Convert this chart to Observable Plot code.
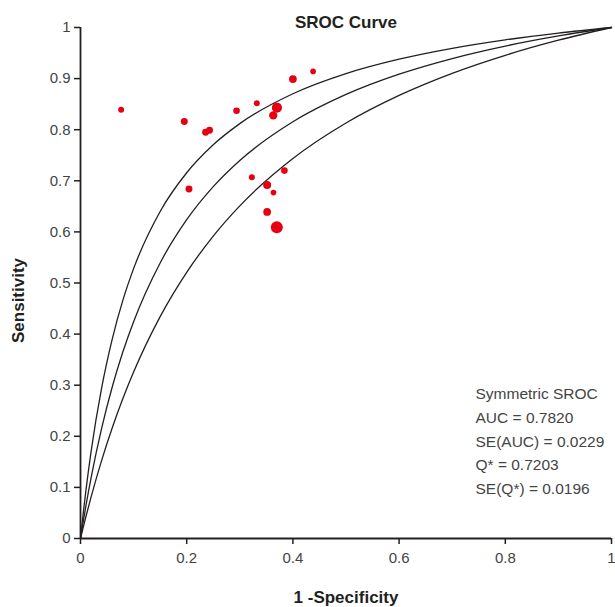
<!DOCTYPE html>
<html>
<head>
<meta charset="utf-8">
<script src="https://cdn.jsdelivr.net/npm/d3@7"></script>
<script src="https://cdn.jsdelivr.net/npm/@observablehq/plot@0.6"></script>
<style>
  body { margin: 0; background: #fff; }
  #chart svg { font-family: "Liberation Sans", Arial, sans-serif; }
</style>
</head>
<body>
<div id="chart"></div>
<script>
// Study points (1 - specificity, sensitivity, relative weight)
const studyFpr = [0.0765, 0.1955, 0.2356, 0.2430, 0.2939, 0.3320, 0.3700, 0.3630, 0.4000, 0.4380,
                  0.2043, 0.3227, 0.3840, 0.3515, 0.3634, 0.3515, 0.3697];
const studyTpr = [0.839, 0.816, 0.795, 0.799, 0.837, 0.852, 0.843, 0.828, 0.899, 0.914,
                  0.684, 0.707, 0.720, 0.692, 0.677, 0.639, 0.609];
const studyWeight = [9, 12, 12, 12, 11, 9, 26, 17, 15, 8,
                     12, 9, 11, 16, 8, 15, 36];

// SROC curve (middle) and its upper / lower bands, read along 1 - specificity
const curveFpr = [0, 0.005, 0.01, 0.02, 0.04, 0.06, 0.08, 0.1, 0.15, 0.2, 0.25, 0.3, 0.4, 0.5, 0.6, 0.7, 0.8, 0.9, 1];
const upperTpr = [0, 0.0482, 0.0923, 0.1705, 0.2956, 0.3913, 0.4669, 0.5281, 0.6399, 0.7157, 0.7705, 0.8119, 0.8703, 0.9097, 0.9379, 0.9592, 0.9758, 0.9891, 1];
const middleTpr = [0, 0.0322, 0.0628, 0.1192, 0.2165, 0.2974, 0.3658, 0.4243, 0.5392, 0.6238, 0.6885, 0.7397, 0.8155, 0.8690, 0.9087, 0.9393, 0.9637, 0.9835, 1];
const lowerTpr = [0, 0.0214, 0.0421, 0.0815, 0.1534, 0.2173, 0.2744, 0.3258, 0.4342, 0.5209, 0.5918, 0.6509, 0.7436, 0.8131, 0.8671, 0.9103, 0.9456, 0.9751, 1];

const xTicks = [0, 0.2, 0.4, 0.6, 0.8, 1];
const yTicks = [0, 0.1, 0.2, 0.3, 0.4, 0.5, 0.6, 0.7, 0.8, 0.9, 1];

const titleText = "SROC Curve";
const xLabel = "1 -Specificity";
const yLabel = "Sensitivity";
const statsLines = ["Symmetric SROC", "AUC = 0.7820", "SE(AUC) = 0.0229", "Q* = 0.7203", "SE(Q*) = 0.0196"];

const studies = studyFpr.map((f, i) => ({fpr: f, tpr: studyTpr[i], w: studyWeight[i]}));
const curves = [
  ...curveFpr.map((f, i) => ({fpr: f, tpr: upperTpr[i], c: "upper"})),
  ...curveFpr.map((f, i) => ({fpr: f, tpr: middleTpr[i], c: "middle"})),
  ...curveFpr.map((f, i) => ({fpr: f, tpr: lowerTpr[i], c: "lower"}))
];

const ink = "#231f20";
const fmt = d => String(d);
const chart = Plot.plot({
  width: 615,
  height: 607,
  marginLeft: 80,
  marginRight: 4,
  marginTop: 27,
  marginBottom: 69,
  style: {fontSize: "15px", color: "#3a3a3a", background: "#fff"},
  x: {domain: [0, 1]},
  y: {domain: [0, 1]},
  r: {type: "sqrt", domain: [0, 36], range: [0, 6]},
  marks: [
    Plot.axisX({ticks: xTicks, tickFormat: fmt, tickSize: 6, tickPadding: 8, label: null, stroke: ink, strokeWidth: 1.5, fontSize: 15, fill: "#444"}),
    Plot.axisY({ticks: yTicks, tickFormat: fmt, tickSize: 6, tickPadding: 4, label: null, stroke: ink, strokeWidth: 1.5, fontSize: 15, fill: "#444"}),
    Plot.ruleY([0], {stroke: ink, strokeWidth: 1.8}),
    Plot.ruleX([0], {stroke: ink, strokeWidth: 1.8}),
    Plot.line(curves, {x: "fpr", y: "tpr", z: "c", stroke: ink, strokeWidth: 1.3, curve: "monotone-x"}),
    Plot.dot(studies, {x: "fpr", y: "tpr", r: "w", fill: "#e60012", stroke: "none"}),
    Plot.text([titleText], {frameAnchor: "top", dy: -12, fontWeight: "bold", fontSize: 17, fill: "#231f20", text: d => d}),
    Plot.text([xLabel], {frameAnchor: "bottom", dy: 64, fontWeight: "bold", fontSize: 17, fill: "#231f20", text: d => d}),
    Plot.text([yLabel], {frameAnchor: "left", dx: -62, dy: 60, rotate: -90, fontWeight: "bold", fontSize: 17, fill: "#231f20", text: d => d}),
    Plot.text([statsLines.join("\n")], {frameAnchor: "top-left", textAnchor: "start", lineAnchor: "top", dx: 395, dy: 355, lineHeight: 1.53, fontSize: 15.5, fill: "#444", text: d => d})
  ]
});
document.getElementById("chart").append(chart);
</script>
</body>
</html>
